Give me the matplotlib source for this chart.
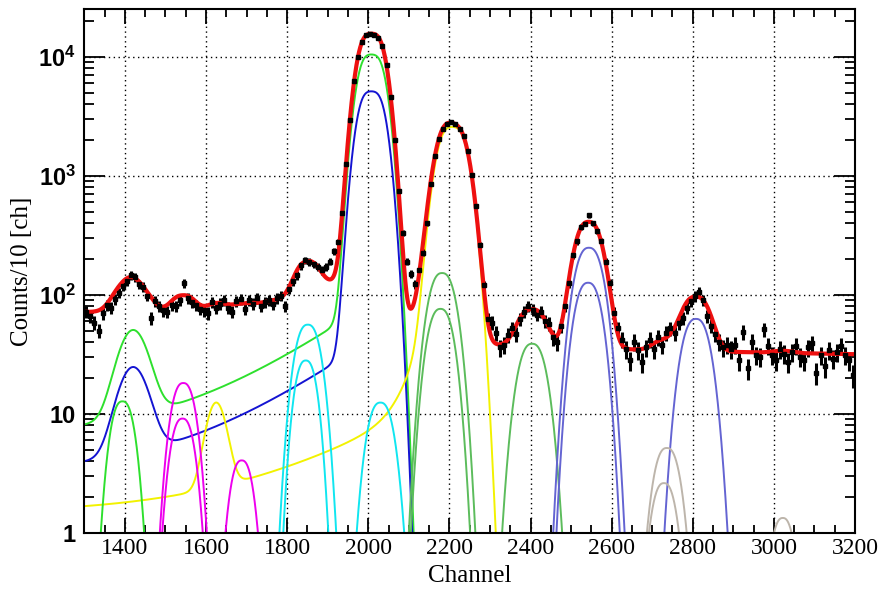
import math
import numpy as np
import matplotlib
matplotlib.use('Agg')
import matplotlib.pyplot as plt
from matplotlib.ticker import FixedLocator, LogLocator, NullFormatter

plt.rcParams['mathtext.fontset'] = 'custom'
plt.rcParams['mathtext.rm'] = 'Liberation Sans:bold'
plt.rcParams['mathtext.it'] = 'Liberation Sans:bold'
plt.rcParams['mathtext.bf'] = 'Liberation Sans:bold'

# measured spectrum, 10 channels per bin (bin centres 1305 ... 3195)
bin_centres = np.arange(1305, 3200, 10)
counts = [72, 66, 58, 50, 70, 82, 78, 92, 104, 118,
          130, 146, 140, 122, 116, 98, 64, 88, 80, 74,
          72, 82, 80, 90, 125, 94, 86, 82, 76, 74,
          70, 86, 78, 84, 90, 78, 72, 88, 92, 76,
          90, 84, 94, 80, 86, 90, 84, 94, 98, 80,
          112, 130, 145, 176, 195, 188, 180, 172, 160, 170,
          190, 232, 275, 490, 1250, 2950, 6200, 9900, 13200, 15100,
          15600, 15300, 14400, 12200, 8500, 4600, 2000, 740, 330, 190,
          150, 122, 160, 225, 400, 850, 1450, 2050, 2480, 2700,
          2820, 2700, 2480, 2150, 1620, 1020, 560, 260, 120, 62,
          58, 48, 36, 38, 46, 52, 47, 62, 72, 80,
          75, 68, 72, 60, 57, 44, 40, 55, 80, 125,
          215, 280, 370, 395, 465, 400, 345, 285, 190, 125,
          70, 52, 42, 35, 28, 40, 34, 27, 36, 42,
          35, 44, 38, 48, 52, 48, 58, 64, 78, 88,
          97, 106, 90, 66, 55, 47, 40, 36, 38, 35,
          38, 28, 49, 24, 40, 31, 30, 51, 37, 31,
          28, 35, 32, 27, 33, 37, 30, 28, 36, 39,
          22, 31, 25, 34, 29, 33, 37, 31, 28, 21]

# fitted single peaks: (centre, height, width)
magenta_peaks = [(1544, 18.1, 28.7), (1542, 9.1, 27.6), (1688, 4.05, 26.5)]
cyan_peaks = [(1851, 56, 30.4), (1846, 28, 26), (2030, 12.4, 30.7)]
lime_peaks = [(1394, 12.7, 27.9)]
midgreen_peaks = [(2182, 152, 32.6), (2178, 76, 30.8), (2404, 38.7, 33.4)]
slate_peaks = [(2544, 248, 33.7), (2542, 126, 31.5), (2808, 62.6, 33.5)]
grey_peaks = [(2736, 5.15, 30.5), (2729, 2.61, 28.5), (3022, 1.33, 26.9)]
peak_power = 2.5

# main lines (unresolved doublets) with low-energy tail:
# centre, height of each half, half-separation, sigma,
# shoulder (centre, height, sigma), step level, tail amplitude, tail slope
lime_main = (2008, 8160, 19, 20, (1420, 41, 33), 6.5, 80, 180)
blue_main = (2008, 4000, 19, 20, (1420, 20, 33), 3.2, 39, 180)
# yellow: same, with a slow and a fast exponential tail
yellow_main = (2208, 1840, 21, 22, (1625, 10, 22), 1.45, (13.7, 220), (460, 30))
# smooth background under the full fit
bg_level, bg_amp, bg_decay = 28, 30, 900

x = np.linspace(1300, 3200, 3000)
erfc = np.vectorize(math.erfc)


def gauss(c, h, s):
    return h * np.exp(-0.5 * ((x - c) / s) ** 2)


def peak(c, h, w):
    return h * np.exp(-0.5 * np.abs((x - c) / w) ** peak_power)


def doublet(c, h, d, s):
    return gauss(c - d, h, s) + gauss(c + d, h, s)


def cutoff(c, s):
    return 0.5 * erfc((x - c) / (math.sqrt(2) * s))


def tailed(p):
    c, h, d, s, sh, step, amp, lam = p
    y = doublet(c, h, d, s) + gauss(*sh)
    return y + (step + amp * np.exp((x - c) / lam)) * cutoff(c, s)


def tailed_yellow(p):
    c, h, d, s, bump, step, slow, fast = p
    y = doublet(c, h, d, s) + gauss(*bump)
    tail = step + slow[0] * np.exp((x - c) / slow[1]) + fast[0] * np.exp((x - c) / fast[1])
    return y + tail * cutoff(c, s)


curves = []
curves.append((tailed(lime_main), '#2ee02e'))
curves.append((tailed(blue_main), '#1414d2'))
curves.append((tailed_yellow(yellow_main), '#f2f200'))
for peaks, col in [(lime_peaks, '#2ee02e'), (magenta_peaks, '#ee00ee'),
                   (cyan_peaks, '#10e6f0'), (midgreen_peaks, '#5cbc5c'),
                   (slate_peaks, '#6464d2'), (grey_peaks, '#bdb5ab')]:
    for c, h, w in peaks:
        curves.append((peak(c, h, w), col))

total = bg_level + bg_amp * np.exp(-(x - 1300) / bg_decay)
for y, col in curves:
    total = total + y

fig = plt.figure(figsize=(8.85, 5.94), dpi=100)
ax = fig.add_axes([0.0953, 0.1032, 0.8708, 0.8811])

for y, col in curves:
    ax.plot(x, np.maximum(y, 1e-3), color=col, lw=1.4)

counts = np.array(counts, dtype=float)
ax.errorbar(bin_centres, counts, yerr=np.sqrt(counts), fmt='s', ms=2.2,
            color='black', ecolor='black', elinewidth=2.2, capsize=0)
ax.plot(x, total, color='#ee1010', lw=3.0)

ax.set_yscale('log')
ax.set_xlim(1300, 3200)
ax.set_ylim(1, 2.5e4)

xticks = [1400, 1600, 1800, 2000, 2200, 2400, 2600, 2800, 3000, 3200]
ax.set_xticks(xticks, labels=[str(t) for t in xticks],
              fontfamily='Liberation Serif', fontsize=17)
ax.xaxis.set_minor_locator(FixedLocator(np.arange(1300, 3201, 50)))

yticks = [1, 10, 100, 1000, 10000]
ylabels = ['1', '10', r'$10^{2}$', r'$10^{3}$', r'$10^{4}$']
ax.set_yticks(yticks, labels=ylabels, fontfamily='Liberation Sans',
              fontweight='bold', fontsize=17)
ax.yaxis.set_minor_locator(LogLocator(base=10, subs=np.arange(2, 10)))
ax.yaxis.set_minor_formatter(NullFormatter())

ax.tick_params(which='both', direction='in', top=True, right=True, width=1.3)
ax.tick_params(axis='x', which='major', length=11, pad=4)
ax.tick_params(axis='x', which='minor', length=5.5)
ax.tick_params(axis='y', which='major', length=15, pad=6)
ax.tick_params(axis='y', which='minor', length=7.5)
for sp in ax.spines.values():
    sp.set_linewidth(1.5)

ax.grid(True, which='major', color='black', linestyle=(0, (1, 2.5)), lw=1.0)

ax.set_xlabel('Channel', fontfamily='Liberation Serif', fontsize=18)
ax.xaxis.set_label_coords(0.5, -0.062)
ax.set_ylabel('Counts/10 [ch]', fontfamily='Liberation Serif', fontsize=18)
ax.yaxis.set_label_coords(-0.066, 0.5)

fig.savefig('out.png', dpi=100)
